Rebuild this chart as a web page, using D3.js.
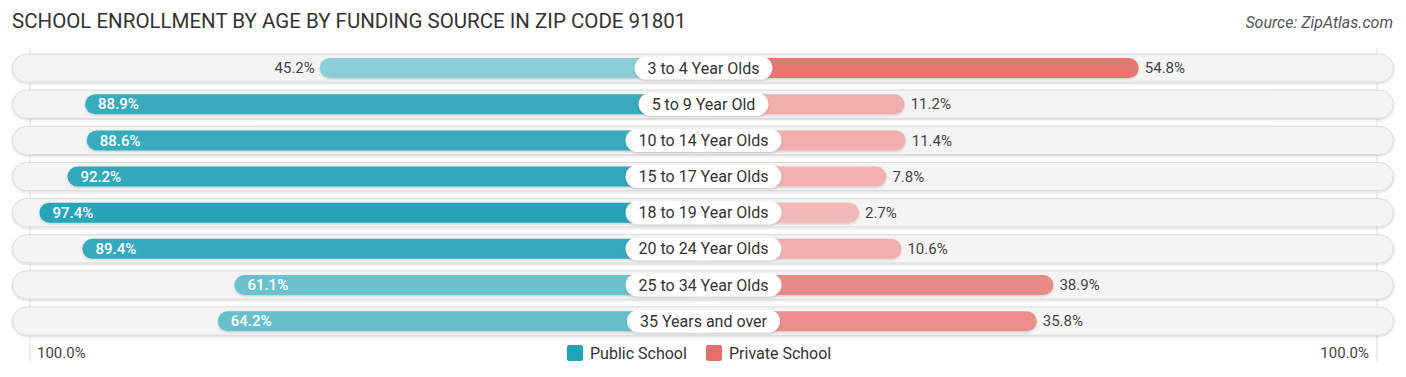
<!DOCTYPE html>
<html>
  <head>
    <meta charset="utf-8">
    <title>School Enrollment by Age</title>
    <script type="text/javascript" src="https://d3js.org/d3.v7.min.js"></script>
    <style type="text/css">
      body { margin: 0; background: #fff; }
      svg text { font-family: Roboto, "Open Sans", sans-serif; }
    </style>
  </head>
  <body>
    <script type="text/javascript">
    // data
    var ageGroups = ["3 to 4 Year Olds", "5 to 9 Year Old", "10 to 14 Year Olds", "15 to 17 Year Olds",
                     "18 to 19 Year Olds", "20 to 24 Year Olds", "25 to 34 Year Olds", "35 Years and over"];
    var publicPct  = [45.2, 88.9, 88.6, 92.2, 97.4, 89.4, 61.1, 64.2];
    var privatePct = [54.8, 11.2, 11.4, 7.8, 2.7, 10.6, 38.9, 35.8];
    var seriesNames = ["Public School", "Private School"];
    var axisLabels = ["100.0%", "100.0%"];

    var width = 1406, height = 377;
    var center = 703.5;

    var svg = d3.select("body").append("svg")
                .attr("width", width)
                .attr("height", height);

    var defs = svg.append("defs");
    var shadow = defs.append("filter").attr("id", "shadow")
                     .attr("x", "-5%").attr("y", "-30%").attr("width", "110%").attr("height", "160%");
    shadow.append("feDropShadow").attr("dx", 0).attr("dy", 1).attr("stdDeviation", 1)
          .attr("flood-color", "#000").attr("flood-opacity", 0.18);

    // scales
    var yScale = d3.scaleBand()
                   .domain(ageGroups)
                   .range([50, 339.2])
                   .paddingInner(0.22)
                   .paddingOuter(0.11);

    // bar length from the centre line (includes the room under the label)
    var lenScale = d3.scaleLinear().domain([0, 100]).range([141, 678]);

    var publicColor = d3.scaleLinear().domain([40, 100]).range(["#94d2da", "#22a2b6"]).clamp(true);
    var privateColor = d3.scaleLinear().domain([0, 60]).range(["#f3bcbc", "#e4706a"]).clamp(true);

    // title and source
    svg.append("text")
       .attr("x", 12).attr("y", 28)
       .style("font-size", "20.5px")
       .style("fill", "#333")
       .text("SCHOOL ENROLLMENT BY AGE BY FUNDING SOURCE IN ZIP CODE 91801");
    svg.append("text")
       .attr("x", 1393).attr("y", 28)
       .attr("text-anchor", "end")
       .style("font-size", "16px")
       .style("font-style", "italic")
       .style("fill", "#555")
       .text("Source: ZipAtlas.com");

    // gridlines at 100%
    svg.selectAll("line.grid")
       .data([30, 1377])
       .enter().append("line")
       .attr("class", "grid")
       .attr("x1", d => d).attr("x2", d => d)
       .attr("y1", 48).attr("y2", 362)
       .attr("stroke", "#ddd").attr("stroke-width", 1);

    var rows = svg.selectAll("g.row")
                  .data(ageGroups)
                  .enter().append("g")
                  .attr("class", "row")
                  .attr("transform", d => "translate(0," + (yScale(d) + yScale.bandwidth() / 2) + ")");

    var pillH = yScale.bandwidth();
    // row background
    rows.append("rect")
        .attr("x", 12.5).attr("y", -pillH / 2)
        .attr("width", 1381).attr("height", pillH)
        .attr("rx", pillH / 2)
        .attr("fill", "#f4f4f4")
        .attr("stroke", "#dcdcdc").attr("stroke-width", 1)
        .attr("filter", "url(#shadow)");

    var barH = 20;
    // public bars (left)
    rows.append("rect")
        .attr("x", (d, i) => center - lenScale(publicPct[i]))
        .attr("y", -barH / 2)
        .attr("width", (d, i) => lenScale(publicPct[i]))
        .attr("height", barH)
        .attr("rx", barH / 2)
        .attr("fill", (d, i) => publicColor(publicPct[i]))
        .attr("filter", "url(#shadow)");

    // private bars (right)
    rows.append("rect")
        .attr("x", center)
        .attr("y", -barH / 2)
        .attr("width", (d, i) => lenScale(privatePct[i]))
        .attr("height", barH)
        .attr("rx", barH / 2)
        .attr("fill", (d, i) => privateColor(privatePct[i]))
        .attr("filter", "url(#shadow)");

    // centre labels in white pills
    rows.each(function(d) {
      var g = d3.select(this);
      var t = g.append("text")
               .attr("x", center).attr("y", 0)
               .attr("dy", "0.35em")
               .attr("text-anchor", "middle")
               .style("font-size", "16px")
               .style("fill", "#333")
               .text(d);
      var w = t.node().getComputedTextLength() + 26;
      g.insert("rect", "text")
       .attr("x", center - w / 2).attr("y", -11.5)
       .attr("width", w).attr("height", 23)
       .attr("rx", 11.5)
       .attr("fill", "#fff")
       .attr("filter", "url(#shadow)");
    });

    var inside = 58;
    // public values
    rows.append("text")
        .attr("x", (d, i) => publicPct[i] > inside ? center - lenScale(publicPct[i]) + 13 : center - lenScale(publicPct[i]) - 5)
        .attr("y", 0).attr("dy", "0.35em")
        .attr("text-anchor", (d, i) => publicPct[i] > inside ? "start" : "end")
        .style("font-size", "15px")
        .style("font-weight", (d, i) => publicPct[i] > inside ? 500 : 400)
        .style("fill", (d, i) => publicPct[i] > inside ? "#fff" : "#444")
        .text((d, i) => publicPct[i].toFixed(1) + "%");

    // private values
    rows.append("text")
        .attr("x", (d, i) => privatePct[i] > inside ? center + lenScale(privatePct[i]) - 13 : center + lenScale(privatePct[i]) + 6)
        .attr("y", 0).attr("dy", "0.35em")
        .attr("text-anchor", (d, i) => privatePct[i] > inside ? "end" : "start")
        .style("font-size", "15px")
        .style("fill", (d, i) => privatePct[i] > inside ? "#fff" : "#444")
        .text((d, i) => privatePct[i].toFixed(1) + "%");

    // bottom axis labels
    svg.append("text")
       .attr("x", 37).attr("y", 358)
       .style("font-size", "15px").style("fill", "#444")
       .text(axisLabels[0]);
    svg.append("text")
       .attr("x", 1369).attr("y", 358)
       .attr("text-anchor", "end")
       .style("font-size", "15px").style("fill", "#444")
       .text(axisLabels[1]);

    // legend
    var legendX = [567, 706];
    var legendColors = [publicColor(100), privateColor(60)];
    var legend = svg.selectAll("g.legend")
                    .data(seriesNames)
                    .enter().append("g")
                    .attr("class", "legend")
                    .attr("transform", (d, i) => "translate(" + legendX[i] + ",345)");
    legend.append("rect")
          .attr("width", 16).attr("height", 16).attr("rx", 2)
          .attr("fill", (d, i) => legendColors[i]);
    legend.append("text")
          .attr("x", 23).attr("y", 8).attr("dy", "0.35em")
          .style("font-size", "16px").style("fill", "#333")
          .text(d => d);
    </script>
  </body>
</html>
